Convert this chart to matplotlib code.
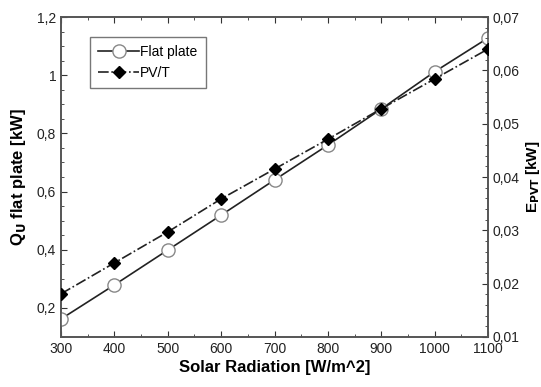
import matplotlib
matplotlib.use("Agg")
import matplotlib.pyplot as plt
from matplotlib.ticker import MultipleLocator, FuncFormatter

plt.rcParams['font.family'] = ['Liberation Sans', 'DejaVu Sans']

radiation = [300, 400, 500, 600, 700, 800, 900, 1000, 1100]
q_flat_plate = [0.162, 0.279, 0.399, 0.519, 0.640, 0.760, 0.884, 1.012, 1.128]
e_pvt = [0.0181, 0.0239, 0.0297, 0.0359, 0.0415, 0.0471, 0.0528, 0.0584, 0.0640]

left_ticks = [0.2, 0.4, 0.6, 0.8, 1.0, 1.2]
right_ticks = [0.01, 0.02, 0.03, 0.04, 0.05, 0.06, 0.07]
x_ticks = [300, 400, 500, 600, 700, 800, 900, 1000, 1100]

def comma_fmt(v, pos):
    s = ('%.2f' % v).rstrip('0').rstrip('.')
    return s.replace('.', ',')

fig = plt.figure(figsize=(5.41, 3.87), dpi=100)
ax = fig.add_axes([0.1128, 0.1292, 0.7893, 0.8268])
ax2 = ax.twinx()

edge = '#333333'
l1, = ax.plot(radiation, q_flat_plate, '-', color='#222222', lw=1.2,
              marker='o', markersize=9.5, markerfacecolor='white',
              markeredgecolor='#888888', markeredgewidth=1.0, label='Flat plate', zorder=3)
l2, = ax2.plot(radiation, e_pvt, '-.', color='#222222', lw=1.2,
               marker='D', markersize=6, markerfacecolor='black',
               markeredgecolor='black', label='PV/T', zorder=3)

ax.set_xlim(300, 1100)
ax.set_ylim(0.1, 1.2)
ax2.set_ylim(0.01, 0.07)

ax.set_xticks(x_ticks)
ax.set_yticks(left_ticks)
ax2.set_yticks(right_ticks)
ax.xaxis.set_minor_locator(MultipleLocator(50))
ax.yaxis.set_minor_locator(MultipleLocator(0.05))
ax2.yaxis.set_minor_locator(MultipleLocator(0.002))
ax.yaxis.set_major_formatter(FuncFormatter(comma_fmt))
ax2.yaxis.set_major_formatter(FuncFormatter(comma_fmt))

ax.tick_params(axis='both', which='both', direction='in', top=True, right=False,
               colors=edge, labelcolor='#222222', labelsize=10)
ax.tick_params(which='major', length=4)
ax.tick_params(which='minor', length=2.5)
ax2.tick_params(axis='y', which='both', direction='in', colors=edge,
                labelcolor='#222222', labelsize=10)
ax2.tick_params(which='major', length=4)
ax2.tick_params(which='minor', length=2.5)

for a in (ax, ax2):
    for s in a.spines.values():
        s.set_color('#555555')
        s.set_linewidth(1.2)

ax.set_xlabel('Solar Radiation [W/m^2]', fontsize=12, fontweight='bold', labelpad=3)
ax.set_ylabel(r'Q$_\mathbf{U}$ flat plate [kW]', fontsize=12, fontweight='bold', labelpad=6)
ax2.set_ylabel(r'E$_\mathbf{PVT}$ [kW]', fontsize=11, fontweight='bold', labelpad=3)

leg = ax.legend(handles=[l1, l2], loc='upper left', bbox_to_anchor=(0.068, 0.9375),
                fontsize=10, frameon=True, fancybox=False, handlelength=2.9,
                handletextpad=0.1, borderpad=0.6, labelspacing=0.45, borderaxespad=0)
leg.get_frame().set_edgecolor('#555555')
leg.get_frame().set_linewidth(1.0)

fig.savefig('out.png', dpi=100)
